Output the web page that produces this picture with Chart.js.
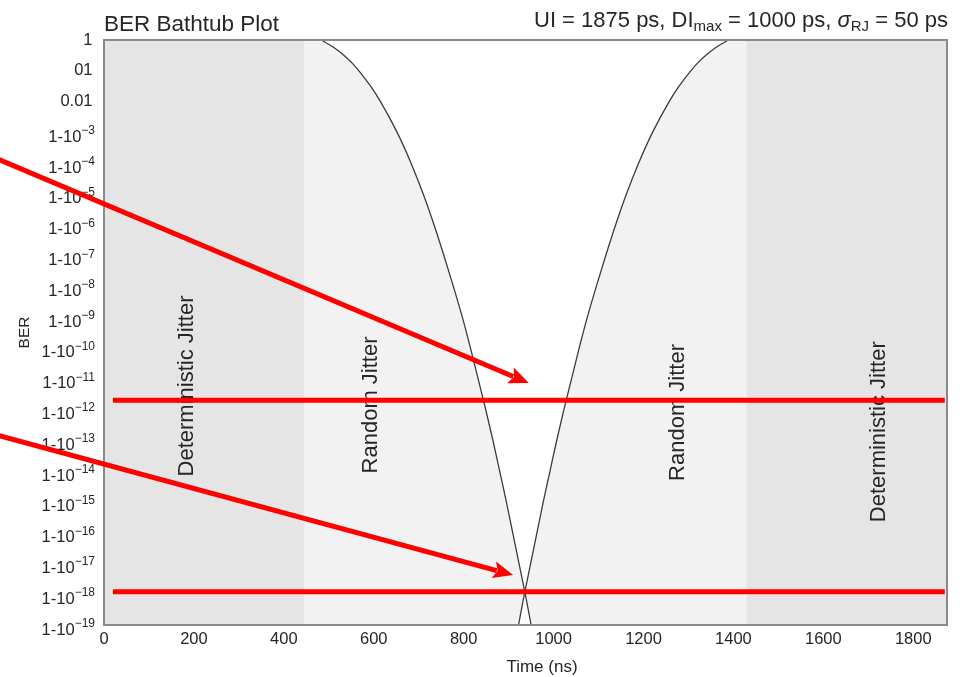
<!DOCTYPE html>
<html>
<head>
<meta charset="utf-8">
<title>BER Bathtub Plot</title>
<script src="https://cdn.jsdelivr.net/npm/chart.js@4/dist/chart.umd.min.js"></script>
<style>
  html, body { margin: 0; padding: 0; background: #ffffff; }
  #wrap { width: 963px; height: 677px; }
</style>
</head>
<body>
<div id="wrap"><canvas id="c" width="963" height="677"></canvas></div>
<script>
// ---- axis ticks ----
const xTickValues = [0, 200, 400, 600, 800, 1000, 1200, 1400, 1600, 1800];
const yTickValues = [1, 1e-1, 1e-2, 1e-3, 1e-4, 1e-5, 1e-6, 1e-7, 1e-8, 1e-9, 1e-10,
                     1e-11, 1e-12, 1e-13, 1e-14, 1e-15, 1e-16, 1e-17, 1e-18, 1e-19];
const yTickMain = ['1', '01', '0.01', '1-10', '1-10', '1-10', '1-10', '1-10', '1-10', '1-10',
                   '1-10', '1-10', '1-10', '1-10', '1-10', '1-10', '1-10', '1-10', '1-10', '1-10'];
const yTickExp  = ['', '', '', '\u22123', '\u22124', '\u22125', '\u22126', '\u22127', '\u22128', '\u22129',
                   '\u221210', '\u221211', '\u221212', '\u221213', '\u221214', '\u221215', '\u221216',
                   '\u221217', '\u221218', '\u221219'];

// ---- left edge of the eye: time (ns) vs BER ----
const leftTime = [483, 512, 534, 552, 567, 593, 615, 652, 683, 710, 734, 756,
                  777, 797, 815, 832, 849, 865, 880, 895, 909, 923, 937, 950];
const leftBer  = [1, 0.562, 0.316, 0.178, 0.1, 0.0316, 1e-2, 1e-3, 1e-4, 1e-5, 1e-6, 1e-7,
                  1e-8, 1e-9, 1e-10, 1e-11, 1e-12, 1e-13, 1e-14, 1e-15, 1e-16, 1e-17, 1e-18, 1e-19];

// ---- right edge of the eye: time (ns) vs BER ----
const rightTime = [922, 935, 949, 963, 977, 992, 1007, 1023, 1040, 1057, 1075, 1095,
                   1116, 1138, 1162, 1189, 1220, 1257, 1279, 1305, 1320, 1338, 1360, 1389];
const rightBer  = [1e-19, 1e-18, 1e-17, 1e-16, 1e-15, 1e-14, 1e-13, 1e-12, 1e-11, 1e-10, 1e-9, 1e-8,
                   1e-7, 1e-6, 1e-5, 1e-4, 1e-3, 1e-2, 0.0316, 0.1, 0.178, 0.316, 0.562, 1];

// ---- jitter zones (ns) ----
const bandStart = [0, 445, 1429];
const bandEnd   = [445, 1429, 1875];
const bandKind  = ['dj', 'rj', 'dj'];

// zone captions, centred at (time, BER)
const zoneNames    = ['Deterministic Jitter', 'Random Jitter', 'Random Jitter', 'Deterministic Jitter'];
const zoneNameTime = [180, 589, 1272, 1719];
const zoneNameBer  = [5.8e-12, 1.4e-12, 8e-13, 1.9e-13];

// ---- BER target lines ----
const targetBer   = [2e-12, 1.2e-18];
const targetStart = 20;
const targetEnd   = 1870;

// ---- pointer arrows: tail and tip in (time, BER) ----
const arrowTailTime = [-240, -240];
const arrowTailBer  = [1.44e-4, 1.5e-13];
const arrowTipTime  = [945, 910];
const arrowTipBer   = [7.2e-12, 4.2e-18];

// ---- styling ----
const FONT = "'Liberation Sans', Arial, Helvetica, sans-serif";
const TEXT = '#262626';
const BAND_COLOR = { dj: '#e5e5e5', rj: '#f2f2f2' };
const RED = '#ff0000';

const toPoints = (ts, bs) => ts.map((t, i) => ({ x: t, y: bs[i] }));

function drawArrow(ctx, x0, y0, x1, y1) {
  const ang = Math.atan2(y1 - y0, x1 - x0);
  const head = 20, half = 8.5;
  const c = Math.cos(ang), s = Math.sin(ang);
  const bx = x1 - head * c, by = y1 - head * s;
  ctx.beginPath();
  ctx.moveTo(x0, y0);
  ctx.lineTo(bx + 3 * c, by + 3 * s);
  ctx.stroke();
  ctx.beginPath();
  ctx.moveTo(x1, y1);
  ctx.lineTo(bx + half * s, by - half * c);
  ctx.lineTo(bx + 4 * c, by + 4 * s);
  ctx.lineTo(bx - half * s, by + half * c);
  ctx.closePath();
  ctx.fill();
}

const decor = {
  id: 'decor',
  beforeDatasetsDraw(chart) {
    const { ctx, chartArea: a, scales: { x, y } } = chart;
    ctx.save();
    // jitter zone shading
    for (let i = 0; i < bandStart.length; i++) {
      const x0 = x.getPixelForValue(bandStart[i]);
      const x1 = x.getPixelForValue(bandEnd[i]);
      ctx.fillStyle = BAND_COLOR[bandKind[i]];
      ctx.fillRect(x0, a.top, x1 - x0, a.bottom - a.top);
    }
    // open eye: down the left edge, back up the right edge
    const L = chart.getDatasetMeta(2).dataset;
    const R = chart.getDatasetMeta(3).dataset;
    L.updateControlPoints(a, 'x');
    R.updateControlPoints(a, 'x');
    ctx.beginPath();
    ctx.rect(a.left, a.top, a.right - a.left, a.bottom - a.top);
    ctx.clip();
    ctx.beginPath();
    L.path(ctx);
    for (const seg of R.segments) R.pathSegment(ctx, seg, { move: false });
    ctx.closePath();
    ctx.fillStyle = '#ffffff';
    ctx.fill();
    ctx.restore();

    // zone captions
    ctx.save();
    ctx.fillStyle = TEXT;
    ctx.font = '22px ' + FONT;
    ctx.textAlign = 'center';
    ctx.textBaseline = 'alphabetic';
    for (let i = 0; i < zoneNames.length; i++) {
      const px = x.getPixelForValue(zoneNameTime[i]);
      const py = y.getPixelForValue(zoneNameBer[i]);
      ctx.save();
      ctx.translate(px + 8, py);
      ctx.rotate(-Math.PI / 2);
      ctx.fillText(zoneNames[i], 0, 0);
      ctx.restore();
    }
    ctx.restore();
  },
  afterDatasetsDraw(chart) {
    const { ctx, chartArea: a } = chart;
    ctx.save();
    ctx.strokeStyle = '#8a8a8a';
    ctx.lineWidth = 2;
    ctx.strokeRect(a.left, a.top, a.right - a.left, a.bottom - a.top);
    ctx.restore();
  },
  afterDraw(chart) {
    const { ctx, chartArea: a, scales: { x, y } } = chart;
    ctx.save();
    ctx.fillStyle = TEXT;

    // BER tick labels with superscript exponents
    for (let i = 0; i < yTickValues.length; i++) {
      const py = y.getPixelForValue(yTickValues[i]);
      ctx.textAlign = 'right';
      if (!yTickExp[i]) {
        ctx.font = '16.5px ' + FONT;
        ctx.textBaseline = 'middle';
        ctx.fillText(yTickMain[i], a.left - 11.5, py);
      } else {
        ctx.textBaseline = 'alphabetic';
        ctx.font = '12px ' + FONT;
        const sw = ctx.measureText(yTickExp[i]).width;
        ctx.fillText(yTickExp[i], a.left - 9, py + 2);
        ctx.font = '16.5px ' + FONT;
        ctx.fillText(yTickMain[i], a.left - 9 - sw, py + 9.5);
      }
    }

    // axis titles
    ctx.font = '17px ' + FONT;
    ctx.textAlign = 'center';
    ctx.textBaseline = 'middle';
    ctx.fillText('Time (ns)', 542, 667);
    ctx.save();
    ctx.translate(29, (a.top + a.bottom) / 2);
    ctx.rotate(-Math.PI / 2);
    ctx.font = '15.5px ' + FONT;
    ctx.textBaseline = 'alphabetic';
    ctx.fillText('BER', 0, 0);
    ctx.restore();

    // plot title
    ctx.textAlign = 'left';
    ctx.textBaseline = 'alphabetic';
    ctx.font = '22.5px ' + FONT;
    ctx.fillText('BER Bathtub Plot', a.left, 30.5);

    // parameter line with subscripts
    const MAIN = '22px ' + FONT, SUB = '15px ' + FONT, ITAL = 'italic 22px ' + FONT;
    const parts = [
      { t: 'UI = 1875 ps, DI', f: MAIN, dy: 0 },
      { t: 'max', f: SUB, dy: 4 },
      { t: ' = 1000 ps, ', f: MAIN, dy: 0 },
      { t: '\u03C3', f: ITAL, dy: 0 },
      { t: 'RJ', f: SUB, dy: 4 },
      { t: ' = 50 ps', f: MAIN, dy: 0 }
    ];
    let total = 0;
    for (const p of parts) { ctx.font = p.f; p.w = ctx.measureText(p.t).width; total += p.w; }
    let cx = 948 - total;
    for (const p of parts) {
      ctx.font = p.f;
      ctx.fillText(p.t, cx, 27 + p.dy);
      cx += p.w;
    }

    // pointer arrows
    ctx.strokeStyle = RED;
    ctx.fillStyle = RED;
    ctx.lineWidth = 5;
    ctx.lineCap = 'butt';
    for (let i = 0; i < arrowTailTime.length; i++) {
      drawArrow(ctx,
        x.getPixelForValue(arrowTailTime[i]), y.getPixelForValue(arrowTailBer[i]),
        x.getPixelForValue(arrowTipTime[i]), y.getPixelForValue(arrowTipBer[i]));
    }
    ctx.restore();
  }
};

new Chart(document.getElementById('c').getContext('2d'), {
  type: 'line',
  data: {
    datasets: [
      {
        label: 'BER target 1',
        data: [{ x: targetStart, y: targetBer[0] }, { x: targetEnd, y: targetBer[0] }],
        borderColor: RED, borderWidth: 5, pointRadius: 0, fill: false, order: 0
      },
      {
        label: 'BER target 2',
        data: [{ x: targetStart, y: targetBer[1] }, { x: targetEnd, y: targetBer[1] }],
        borderColor: RED, borderWidth: 5, pointRadius: 0, fill: false, order: 0
      },
      {
        label: 'Left edge',
        data: toPoints(leftTime, leftBer),
        borderColor: '#3c3c3c', borderWidth: 1.3, pointRadius: 0, fill: false,
        cubicInterpolationMode: 'monotone', order: 1
      },
      {
        label: 'Right edge',
        data: toPoints(rightTime, rightBer),
        borderColor: '#3c3c3c', borderWidth: 1.3, pointRadius: 0, fill: false,
        cubicInterpolationMode: 'monotone', order: 1
      }
    ]
  },
  options: {
    responsive: false,
    animation: false,
    devicePixelRatio: 1,
    layout: { padding: { left: 0, right: 16, top: 40, bottom: 0 } },
    plugins: { legend: { display: false }, tooltip: { enabled: false }, title: { display: false } },
    scales: {
      x: {
        type: 'linear', min: 0, max: 1875,
        grid: { display: false, drawTicks: false },
        border: { display: false },
        afterBuildTicks: s => { s.ticks = xTickValues.map(v => ({ value: v })); },
        afterFit: s => { s.height = 52; },
        ticks: {
          font: { family: FONT, size: 16.5 }, color: TEXT, padding: 5,
          maxRotation: 0, autoSkip: false, callback: v => String(v)
        }
      },
      y: {
        type: 'logarithmic', min: 1e-19, max: 1,
        grid: { display: false, drawTicks: false },
        border: { display: false },
        afterBuildTicks: s => { s.ticks = yTickValues.map(v => ({ value: v })); },
        afterFit: s => { s.width = 104; },
        ticks: { display: false }
      }
    }
  },
  plugins: [decor]
});
</script>
</body>
</html>
